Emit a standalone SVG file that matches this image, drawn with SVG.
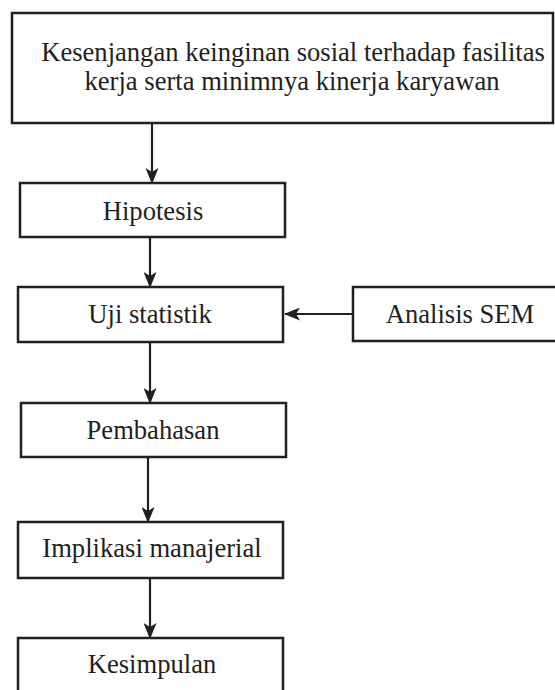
<svg xmlns="http://www.w3.org/2000/svg" width="555" height="690" viewBox="0 0 555 690">
<style>
.box{fill:#fff;stroke:#231f20;stroke-width:2.5}
.lbl{font-family:"Liberation Serif","Times New Roman",serif;font-size:26.6px;fill:#231f20;text-anchor:middle}
.conn{stroke:#231f20;stroke-width:2.2;fill:none;marker-end:url(#ah)}
</style>
<defs>
<marker id="ah" viewBox="0 0 16 13" refX="15" refY="6.5" markerWidth="16" markerHeight="13" markerUnits="userSpaceOnUse" orient="auto">
<path d="M0,0 L16,6.5 L0,13 L4,6.5 Z" fill="#231f20"/>
</marker>
</defs>
<rect width="555" height="690" fill="#fff"/>
<g id="connectors">
<line class="conn" x1="152" y1="123" x2="152" y2="183"/>
<line class="conn" x1="150" y1="237" x2="150" y2="287"/>
<line class="conn" x1="353" y1="314" x2="285" y2="314"/>
<line class="conn" x1="150" y1="342" x2="150" y2="403"/>
<line class="conn" x1="148" y1="457" x2="148" y2="522"/>
<line class="conn" x1="150" y1="578" x2="150" y2="638"/>
</g>
<g id="n_kesenjangan">
<rect class="box" x="12" y="13" width="541" height="110"/>
<text class="lbl" x="293" y="61">Kesenjangan keinginan sosial terhadap fasilitas</text>
<text class="lbl" x="292" y="90">kerja serta minimnya kinerja karyawan</text>
</g>
<g id="n_hipotesis">
<rect class="box" x="20" y="183" width="265" height="54"/>
<text class="lbl" x="153" y="220">Hipotesis</text>
</g>
<g id="n_uji">
<rect class="box" x="18" y="287" width="265" height="55"/>
<text class="lbl" x="150" y="323">Uji statistik</text>
</g>
<g id="n_sem">
<rect class="box" x="353" y="287" width="214" height="54"/>
<text class="lbl" x="460" y="323">Analisis SEM</text>
</g>
<g id="n_pembahasan">
<rect class="box" x="21" y="403" width="265" height="54"/>
<text class="lbl" x="153" y="439">Pembahasan</text>
</g>
<g id="n_implikasi">
<rect class="box" x="18" y="522" width="265" height="56"/>
<text class="lbl" x="152" y="557">Implikasi manajerial</text>
</g>
<g id="n_kesimpulan">
<rect class="box" x="18" y="638" width="265" height="60"/>
<text class="lbl" x="152" y="673">Kesimpulan</text>
</g>
</svg>
